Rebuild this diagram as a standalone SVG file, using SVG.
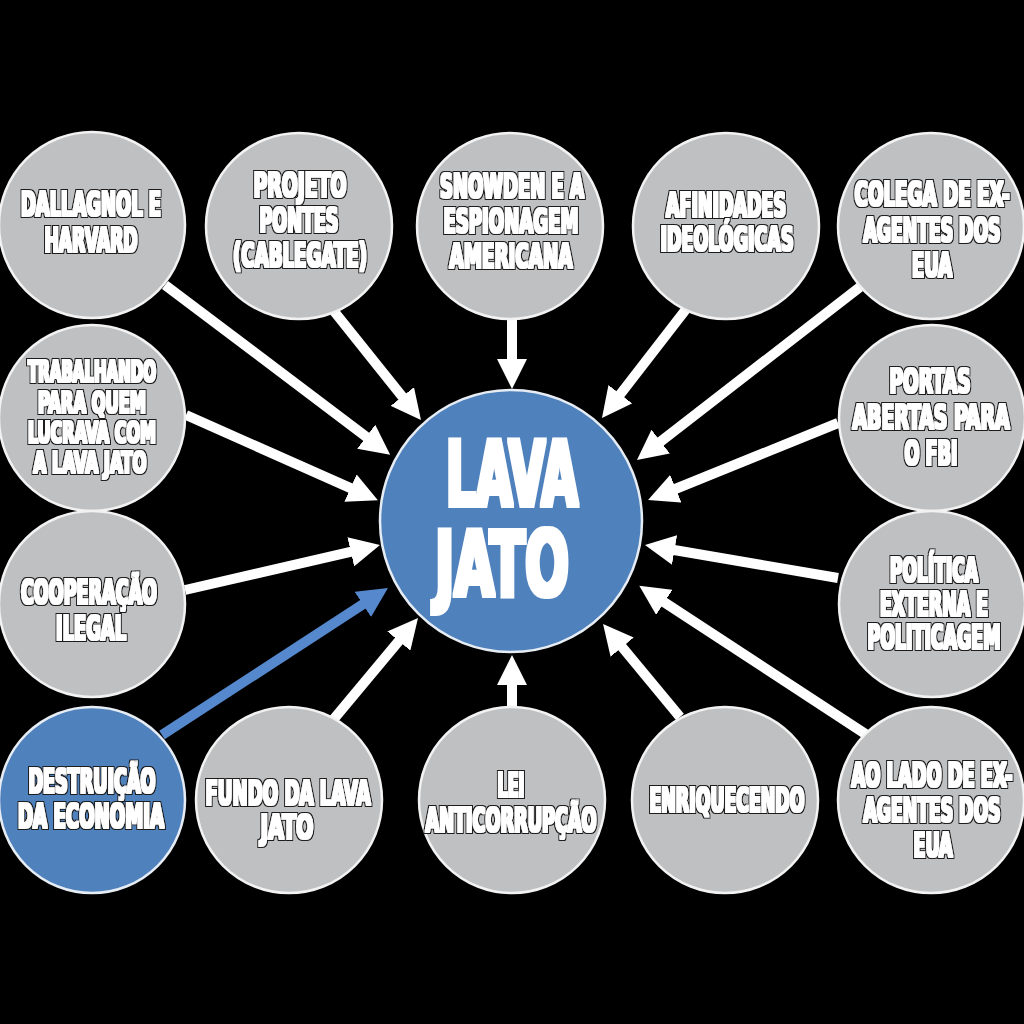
<svg xmlns="http://www.w3.org/2000/svg" width="1024" height="1024" viewBox="0 0 1024 1024">
<defs>
<style>
.node{fill:#bfc0c2;stroke:#f2f2f2;stroke-width:2.5}
.blue{fill:#4f81bd;stroke:#e6ecf3;stroke-width:2.5}
.t{font-family:"Liberation Sans Narrow","DejaVu Sans Condensed","Liberation Sans",sans-serif;font-weight:bold;font-size:34px;fill:#ffffff;text-anchor:middle;filter:url(#heavy)}
.s{font-size:30px}
.big{font-family:"Liberation Sans Narrow","DejaVu Sans Condensed","Liberation Sans",sans-serif;font-weight:bold;font-size:90px;fill:#ffffff;text-anchor:middle;filter:url(#heavybig)}
.w{stroke:#ffffff;stroke-width:10;fill:none}
.b{stroke:#5588cc;stroke-width:10;fill:none}
</style>
<filter id="heavy" x="-20%" y="-30%" width="140%" height="160%">
<feMorphology in="SourceAlpha" operator="dilate" radius="0.8" result="fat"/>
<feMorphology in="SourceAlpha" operator="dilate" radius="2.2" result="outer"/>
<feFlood flood-color="#1a1a1a"/>
<feComposite in2="outer" operator="in" result="dark"/>
<feFlood flood-color="#ffffff"/>
<feComposite in2="fat" operator="in" result="white"/>
<feMerge><feMergeNode in="dark"/><feMergeNode in="white"/></feMerge>
</filter>
<filter id="heavybig" x="-10%" y="-10%" width="120%" height="120%">
<feMorphology in="SourceGraphic" operator="dilate" radius="1.8"/>
</filter>
<marker id="aw" markerUnits="userSpaceOnUse" viewBox="0 0 30 30" markerWidth="30" markerHeight="30" refX="2" refY="15" orient="auto"><path d="M0,0 L30,15 L0,30 Z" fill="#ffffff"/></marker>
<marker id="ab" markerUnits="userSpaceOnUse" viewBox="0 0 30 30" markerWidth="30" markerHeight="30" refX="2" refY="15" orient="auto"><path d="M0,0 L30,15 L0,30 Z" fill="#5588cc"/></marker>
</defs>
<rect width="1024" height="1024" fill="#000000"/>
<g id="connectors">
<line class="w" x1="165" y1="285" x2="367.8" y2="437.9" marker-end="url(#aw)"/>
<line class="w" x1="333" y1="310" x2="403.5" y2="398.1" marker-end="url(#aw)"/>
<line class="w" x1="512" y1="320" x2="512" y2="361" marker-end="url(#aw)"/>
<line class="w" x1="687" y1="308" x2="619.1" y2="395.8" marker-end="url(#aw)"/>
<line class="w" x1="860" y1="287" x2="659.1" y2="442.8" marker-end="url(#aw)"/>
<line class="w" x1="186" y1="415" x2="352.3" y2="488.9" marker-end="url(#aw)"/>
<line class="w" x1="838" y1="423" x2="674" y2="489.5" marker-end="url(#aw)"/>
<line class="w" x1="185" y1="590" x2="352.7" y2="551.3" marker-end="url(#aw)"/>
<line class="w" x1="838" y1="578" x2="672.6" y2="549.7" marker-end="url(#aw)"/>
<line class="b" x1="162" y1="735" x2="364.5" y2="603.3" marker-end="url(#ab)"/>
<line class="w" x1="333" y1="720" x2="400.1" y2="639.5" marker-end="url(#aw)"/>
<line class="w" x1="512" y1="708" x2="512" y2="683" marker-end="url(#aw)"/>
<line class="w" x1="680" y1="717" x2="620.9" y2="645.6" marker-end="url(#aw)"/>
<line class="w" x1="867" y1="735" x2="662.7" y2="601.2" marker-end="url(#aw)"/>
</g>
<g id="center">
<circle class="blue" cx="511" cy="521" r="131" stroke-width="3"/>
<text class="big" x="512" y="506" textLength="132" lengthAdjust="spacingAndGlyphs">LAVA</text>
<text class="big" x="502" y="596" textLength="134" lengthAdjust="spacingAndGlyphs">JATO</text>
</g>
<g id="dallagnol">
<circle class="node" cx="92" cy="225" r="93"/>
<text class="t" x="91" y="216" textLength="140" lengthAdjust="spacingAndGlyphs">DALLAGNOL E</text>
<text class="t" x="91" y="252" textLength="93" lengthAdjust="spacingAndGlyphs">HARVARD</text>
</g>
<g id="projeto">
<circle class="node" cx="299" cy="226" r="93"/>
<text class="t" x="300" y="197" textLength="93" lengthAdjust="spacingAndGlyphs">PROJETO</text>
<text class="t" x="299" y="232" textLength="79" lengthAdjust="spacingAndGlyphs">PONTES</text>
<text class="t" x="300" y="267" textLength="134" lengthAdjust="spacingAndGlyphs">(CABLEGATE)</text>
</g>
<g id="snowden">
<circle class="node" cx="510" cy="226" r="93"/>
<text class="t" x="512" y="198" textLength="144" lengthAdjust="spacingAndGlyphs">SNOWDEN E A</text>
<text class="t" x="511" y="233" textLength="135" lengthAdjust="spacingAndGlyphs">ESPIONAGEM</text>
<text class="t" x="511" y="268" textLength="123" lengthAdjust="spacingAndGlyphs">AMERICANA</text>
</g>
<g id="afinidades">
<circle class="node" cx="726" cy="226" r="93"/>
<text class="t" x="726" y="217" textLength="120" lengthAdjust="spacingAndGlyphs">AFINIDADES</text>
<text class="t" x="727" y="251" textLength="133" lengthAdjust="spacingAndGlyphs">IDEOLÓGICAS</text>
</g>
<g id="colega">
<circle class="node" cx="931" cy="226" r="93"/>
<text class="t" x="932" y="206" textLength="155" lengthAdjust="spacingAndGlyphs">COLEGA DE EX-</text>
<text class="t" x="932" y="242" textLength="137" lengthAdjust="spacingAndGlyphs">AGENTES DOS</text>
<text class="t" x="932" y="277" textLength="40" lengthAdjust="spacingAndGlyphs">EUA</text>
</g>
<g id="trabalhando">
<circle class="node" cx="92" cy="418" r="93"/>
<text class="t s" x="92" y="382" textLength="128" lengthAdjust="spacingAndGlyphs">TRABALHANDO</text>
<text class="t s" x="92" y="413" textLength="108" lengthAdjust="spacingAndGlyphs">PARA QUEM</text>
<text class="t s" x="92" y="443" textLength="128" lengthAdjust="spacingAndGlyphs">LUCRAVA COM</text>
<text class="t s" x="90" y="473" textLength="113" lengthAdjust="spacingAndGlyphs">A LAVA JATO</text>
</g>
<g id="portas">
<circle class="node" cx="932" cy="418" r="93"/>
<text class="t" x="930" y="393" textLength="81" lengthAdjust="spacingAndGlyphs">PORTAS</text>
<text class="t" x="931" y="429" textLength="157" lengthAdjust="spacingAndGlyphs">ABERTAS PARA</text>
<text class="t" x="931" y="465" textLength="53" lengthAdjust="spacingAndGlyphs">O FBI</text>
</g>
<g id="cooperacao">
<circle class="node" cx="92" cy="604" r="93"/>
<text class="t" x="89" y="604" textLength="136" lengthAdjust="spacingAndGlyphs">COOPERAÇÃO</text>
<text class="t" x="91" y="640" textLength="70" lengthAdjust="spacingAndGlyphs">ILEGAL</text>
</g>
<g id="politica">
<circle class="node" cx="932" cy="604" r="93"/>
<text class="t" x="934" y="582" textLength="88" lengthAdjust="spacingAndGlyphs">POLÍTICA</text>
<text class="t" x="934" y="616" textLength="108" lengthAdjust="spacingAndGlyphs">EXTERNA E</text>
<text class="t" x="934" y="649" textLength="133" lengthAdjust="spacingAndGlyphs">POLITICAGEM</text>
</g>
<g id="destruicao">
<circle class="blue" cx="92" cy="800" r="93"/>
<text class="t" x="92" y="793" textLength="127" lengthAdjust="spacingAndGlyphs">DESTRUIÇÃO</text>
<text class="t" x="91" y="828" textLength="146" lengthAdjust="spacingAndGlyphs">DA ECONOMIA</text>
</g>
<g id="fundo">
<circle class="node" cx="289" cy="800" r="93"/>
<text class="t" x="288" y="805" textLength="165" lengthAdjust="spacingAndGlyphs">FUNDO DA LAVA</text>
<text class="t" x="287" y="839" textLength="53" lengthAdjust="spacingAndGlyphs">JATO</text>
</g>
<g id="lei">
<circle class="node" cx="512" cy="800" r="93"/>
<text class="t" x="511" y="797" textLength="27" lengthAdjust="spacingAndGlyphs">LEI</text>
<text class="t" x="511" y="832" textLength="171" lengthAdjust="spacingAndGlyphs">ANTICORRUPÇÃO</text>
</g>
<g id="enriquecendo">
<circle class="node" cx="725" cy="800" r="93"/>
<text class="t" x="727" y="812" textLength="155" lengthAdjust="spacingAndGlyphs">ENRIQUECENDO</text>
</g>
<g id="aolado">
<circle class="node" cx="931" cy="800" r="93"/>
<text class="t" x="932" y="787" textLength="161" lengthAdjust="spacingAndGlyphs">AO LADO DE EX-</text>
<text class="t" x="932" y="822" textLength="137" lengthAdjust="spacingAndGlyphs">AGENTES DOS</text>
<text class="t" x="933" y="857" textLength="39" lengthAdjust="spacingAndGlyphs">EUA</text>
</g>
</svg>
